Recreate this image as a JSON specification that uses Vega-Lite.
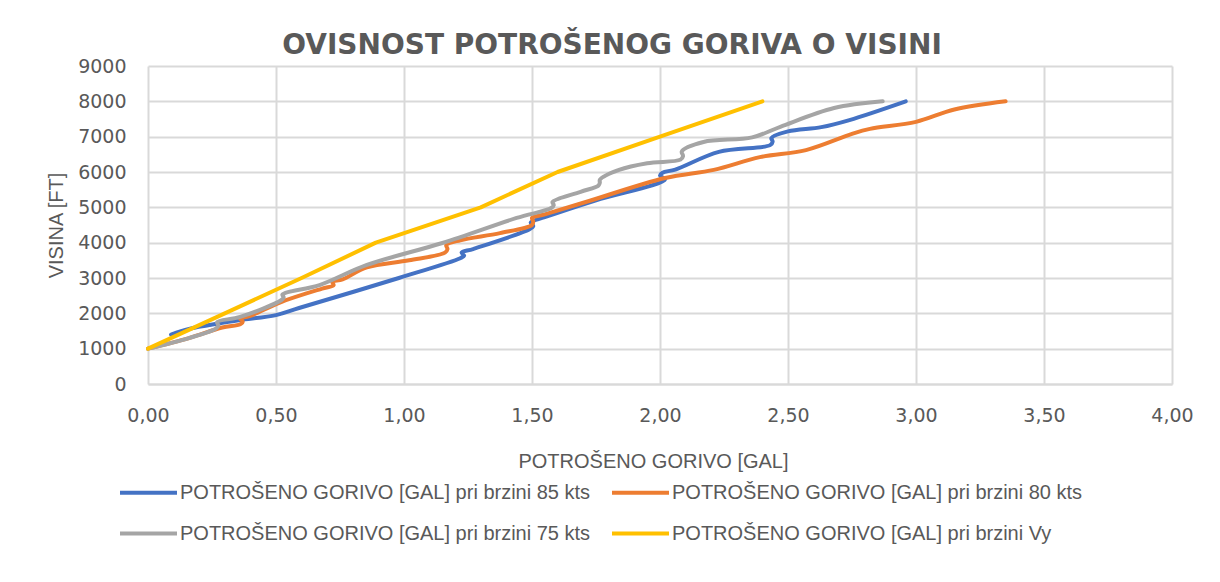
{
  "$schema": "https://vega.github.io/schema/vega-lite/v6.json",
  "autosize": {"type": "none"},
  "width": 1024,
  "height": 318,
  "padding": {"left": 148, "top": 66, "right": 48, "bottom": 198},
  "background": "white",
  "config": {
    "font": "Liberation Sans",
    "view": {"stroke": null},
    "locale": {"number": {"decimal": ",", "thousands": ".", "grouping": [3], "currency": ["", " €"]}}
  },
  "title": {
    "text": "OVISNOST POTROŠENOG GORIVA O VISINI",
    "font": "DejaVu Sans",
    "fontSize": 28,
    "fontWeight": "bold",
    "color": "#595959",
    "anchor": "middle",
    "frame": "group",
    "dx": -48,
    "dy": 5,
    "offset": 2
  },
  "data": {
    "values": [
      {"serija": "POTROŠENO GORIVO [GAL] pri brzini 85 kts", "gorivo": 0.09, "visina": 1400},
      {"serija": "POTROŠENO GORIVO [GAL] pri brzini 85 kts", "gorivo": 0.16, "visina": 1560},
      {"serija": "POTROŠENO GORIVO [GAL] pri brzini 85 kts", "gorivo": 0.28, "visina": 1720},
      {"serija": "POTROŠENO GORIVO [GAL] pri brzini 85 kts", "gorivo": 0.36, "visina": 1810},
      {"serija": "POTROŠENO GORIVO [GAL] pri brzini 85 kts", "gorivo": 0.5, "visina": 1950},
      {"serija": "POTROŠENO GORIVO [GAL] pri brzini 85 kts", "gorivo": 0.59, "visina": 2150},
      {"serija": "POTROŠENO GORIVO [GAL] pri brzini 85 kts", "gorivo": 0.98, "visina": 3000},
      {"serija": "POTROŠENO GORIVO [GAL] pri brzini 85 kts", "gorivo": 1.22, "visina": 3560},
      {"serija": "POTROŠENO GORIVO [GAL] pri brzini 85 kts", "gorivo": 1.235, "visina": 3630},
      {"serija": "POTROŠENO GORIVO [GAL] pri brzini 85 kts", "gorivo": 1.225, "visina": 3720},
      {"serija": "POTROŠENO GORIVO [GAL] pri brzini 85 kts", "gorivo": 1.27, "visina": 3820},
      {"serija": "POTROŠENO GORIVO [GAL] pri brzini 85 kts", "gorivo": 1.49, "visina": 4380},
      {"serija": "POTROŠENO GORIVO [GAL] pri brzini 85 kts", "gorivo": 1.505, "visina": 4470},
      {"serija": "POTROŠENO GORIVO [GAL] pri brzini 85 kts", "gorivo": 1.495, "visina": 4570},
      {"serija": "POTROŠENO GORIVO [GAL] pri brzini 85 kts", "gorivo": 1.55, "visina": 4720},
      {"serija": "POTROŠENO GORIVO [GAL] pri brzini 85 kts", "gorivo": 1.75, "visina": 5200},
      {"serija": "POTROŠENO GORIVO [GAL] pri brzini 85 kts", "gorivo": 2.02, "visina": 5790},
      {"serija": "POTROŠENO GORIVO [GAL] pri brzini 85 kts", "gorivo": 2.0, "visina": 5900},
      {"serija": "POTROŠENO GORIVO [GAL] pri brzini 85 kts", "gorivo": 2.01, "visina": 5980},
      {"serija": "POTROŠENO GORIVO [GAL] pri brzini 85 kts", "gorivo": 2.06, "visina": 6070},
      {"serija": "POTROŠENO GORIVO [GAL] pri brzini 85 kts", "gorivo": 2.23, "visina": 6570},
      {"serija": "POTROŠENO GORIVO [GAL] pri brzini 85 kts", "gorivo": 2.43, "visina": 6760},
      {"serija": "POTROŠENO GORIVO [GAL] pri brzini 85 kts", "gorivo": 2.44, "visina": 6860},
      {"serija": "POTROŠENO GORIVO [GAL] pri brzini 85 kts", "gorivo": 2.435, "visina": 6960},
      {"serija": "POTROŠENO GORIVO [GAL] pri brzini 85 kts", "gorivo": 2.5, "visina": 7150},
      {"serija": "POTROŠENO GORIVO [GAL] pri brzini 85 kts", "gorivo": 2.63, "visina": 7270},
      {"serija": "POTROŠENO GORIVO [GAL] pri brzini 85 kts", "gorivo": 2.74, "visina": 7470},
      {"serija": "POTROŠENO GORIVO [GAL] pri brzini 85 kts", "gorivo": 2.96, "visina": 8000},

      {"serija": "POTROŠENO GORIVO [GAL] pri brzini 80 kts", "gorivo": 0.0, "visina": 1000},
      {"serija": "POTROŠENO GORIVO [GAL] pri brzini 80 kts", "gorivo": 0.16, "visina": 1300},
      {"serija": "POTROŠENO GORIVO [GAL] pri brzini 80 kts", "gorivo": 0.29, "visina": 1600},
      {"serija": "POTROŠENO GORIVO [GAL] pri brzini 80 kts", "gorivo": 0.36, "visina": 1690},
      {"serija": "POTROŠENO GORIVO [GAL] pri brzini 80 kts", "gorivo": 0.37, "visina": 1770},
      {"serija": "POTROŠENO GORIVO [GAL] pri brzini 80 kts", "gorivo": 0.36, "visina": 1850},
      {"serija": "POTROŠENO GORIVO [GAL] pri brzini 80 kts", "gorivo": 0.4, "visina": 1930},
      {"serija": "POTROŠENO GORIVO [GAL] pri brzini 80 kts", "gorivo": 0.52, "visina": 2320},
      {"serija": "POTROŠENO GORIVO [GAL] pri brzini 80 kts", "gorivo": 0.68, "visina": 2700},
      {"serija": "POTROŠENO GORIVO [GAL] pri brzini 80 kts", "gorivo": 0.725, "visina": 2800},
      {"serija": "POTROŠENO GORIVO [GAL] pri brzini 80 kts", "gorivo": 0.72, "visina": 2890},
      {"serija": "POTROŠENO GORIVO [GAL] pri brzini 80 kts", "gorivo": 0.76, "visina": 2960},
      {"serija": "POTROŠENO GORIVO [GAL] pri brzini 80 kts", "gorivo": 0.855, "visina": 3300},
      {"serija": "POTROŠENO GORIVO [GAL] pri brzini 80 kts", "gorivo": 1.02, "visina": 3500},
      {"serija": "POTROŠENO GORIVO [GAL] pri brzini 80 kts", "gorivo": 1.16, "visina": 3720},
      {"serija": "POTROŠENO GORIVO [GAL] pri brzini 80 kts", "gorivo": 1.17, "visina": 3820},
      {"serija": "POTROŠENO GORIVO [GAL] pri brzini 80 kts", "gorivo": 1.165, "visina": 3930},
      {"serija": "POTROŠENO GORIVO [GAL] pri brzini 80 kts", "gorivo": 1.22, "visina": 4070},
      {"serija": "POTROŠENO GORIVO [GAL] pri brzini 80 kts", "gorivo": 1.375, "visina": 4270},
      {"serija": "POTROŠENO GORIVO [GAL] pri brzini 80 kts", "gorivo": 1.5, "visina": 4500},
      {"serija": "POTROŠENO GORIVO [GAL] pri brzini 80 kts", "gorivo": 1.505, "visina": 4600},
      {"serija": "POTROŠENO GORIVO [GAL] pri brzini 80 kts", "gorivo": 1.5, "visina": 4700},
      {"serija": "POTROŠENO GORIVO [GAL] pri brzini 80 kts", "gorivo": 1.55, "visina": 4800},
      {"serija": "POTROŠENO GORIVO [GAL] pri brzini 80 kts", "gorivo": 1.71, "visina": 5150},
      {"serija": "POTROŠENO GORIVO [GAL] pri brzini 80 kts", "gorivo": 2.02, "visina": 5830},
      {"serija": "POTROŠENO GORIVO [GAL] pri brzini 80 kts", "gorivo": 2.21, "visina": 6060},
      {"serija": "POTROŠENO GORIVO [GAL] pri brzini 80 kts", "gorivo": 2.39, "visina": 6420},
      {"serija": "POTROŠENO GORIVO [GAL] pri brzini 80 kts", "gorivo": 2.57, "visina": 6620},
      {"serija": "POTROŠENO GORIVO [GAL] pri brzini 80 kts", "gorivo": 2.75, "visina": 7080},
      {"serija": "POTROŠENO GORIVO [GAL] pri brzini 80 kts", "gorivo": 2.82, "visina": 7220},
      {"serija": "POTROŠENO GORIVO [GAL] pri brzini 80 kts", "gorivo": 3.0, "visina": 7420},
      {"serija": "POTROŠENO GORIVO [GAL] pri brzini 80 kts", "gorivo": 3.15, "visina": 7770},
      {"serija": "POTROŠENO GORIVO [GAL] pri brzini 80 kts", "gorivo": 3.35, "visina": 8000},

      {"serija": "POTROŠENO GORIVO [GAL] pri brzini 75 kts", "gorivo": 0.0, "visina": 1000},
      {"serija": "POTROŠENO GORIVO [GAL] pri brzini 75 kts", "gorivo": 0.16, "visina": 1300},
      {"serija": "POTROŠENO GORIVO [GAL] pri brzini 75 kts", "gorivo": 0.265, "visina": 1570},
      {"serija": "POTROŠENO GORIVO [GAL] pri brzini 75 kts", "gorivo": 0.275, "visina": 1660},
      {"serija": "POTROŠENO GORIVO [GAL] pri brzini 75 kts", "gorivo": 0.27, "visina": 1750},
      {"serija": "POTROŠENO GORIVO [GAL] pri brzini 75 kts", "gorivo": 0.36, "visina": 1900},
      {"serija": "POTROŠENO GORIVO [GAL] pri brzini 75 kts", "gorivo": 0.52, "visina": 2370},
      {"serija": "POTROŠENO GORIVO [GAL] pri brzini 75 kts", "gorivo": 0.53, "visina": 2450},
      {"serija": "POTROŠENO GORIVO [GAL] pri brzini 75 kts", "gorivo": 0.525, "visina": 2530},
      {"serija": "POTROŠENO GORIVO [GAL] pri brzini 75 kts", "gorivo": 0.67, "visina": 2800},
      {"serija": "POTROŠENO GORIVO [GAL] pri brzini 75 kts", "gorivo": 0.855, "visina": 3370},
      {"serija": "POTROŠENO GORIVO [GAL] pri brzini 75 kts", "gorivo": 1.15, "visina": 3990},
      {"serija": "POTROŠENO GORIVO [GAL] pri brzini 75 kts", "gorivo": 1.44, "visina": 4700},
      {"serija": "POTROŠENO GORIVO [GAL] pri brzini 75 kts", "gorivo": 1.575, "visina": 4980},
      {"serija": "POTROŠENO GORIVO [GAL] pri brzini 75 kts", "gorivo": 1.585, "visina": 5060},
      {"serija": "POTROŠENO GORIVO [GAL] pri brzini 75 kts", "gorivo": 1.58, "visina": 5150},
      {"serija": "POTROŠENO GORIVO [GAL] pri brzini 75 kts", "gorivo": 1.69, "visina": 5440},
      {"serija": "POTROŠENO GORIVO [GAL] pri brzini 75 kts", "gorivo": 1.76, "visina": 5620},
      {"serija": "POTROŠENO GORIVO [GAL] pri brzini 75 kts", "gorivo": 1.765, "visina": 5700},
      {"serija": "POTROŠENO GORIVO [GAL] pri brzini 75 kts", "gorivo": 1.765, "visina": 5780},
      {"serija": "POTROŠENO GORIVO [GAL] pri brzini 75 kts", "gorivo": 1.84, "visina": 6060},
      {"serija": "POTROŠENO GORIVO [GAL] pri brzini 75 kts", "gorivo": 1.95, "visina": 6250},
      {"serija": "POTROŠENO GORIVO [GAL] pri brzini 75 kts", "gorivo": 2.08, "visina": 6350},
      {"serija": "POTROŠENO GORIVO [GAL] pri brzini 75 kts", "gorivo": 2.09, "visina": 6450},
      {"serija": "POTROŠENO GORIVO [GAL] pri brzini 75 kts", "gorivo": 2.085, "visina": 6580},
      {"serija": "POTROŠENO GORIVO [GAL] pri brzini 75 kts", "gorivo": 2.17, "visina": 6850},
      {"serija": "POTROŠENO GORIVO [GAL] pri brzini 75 kts", "gorivo": 2.36, "visina": 6980},
      {"serija": "POTROŠENO GORIVO [GAL] pri brzini 75 kts", "gorivo": 2.47, "visina": 7280},
      {"serija": "POTROŠENO GORIVO [GAL] pri brzini 75 kts", "gorivo": 2.68, "visina": 7810},
      {"serija": "POTROŠENO GORIVO [GAL] pri brzini 75 kts", "gorivo": 2.87, "visina": 8000},

      {"serija": "POTROŠENO GORIVO [GAL] pri brzini Vy", "gorivo": 0.0, "visina": 1000},
      {"serija": "POTROŠENO GORIVO [GAL] pri brzini Vy", "gorivo": 0.3, "visina": 2000},
      {"serija": "POTROŠENO GORIVO [GAL] pri brzini Vy", "gorivo": 0.6, "visina": 3000},
      {"serija": "POTROŠENO GORIVO [GAL] pri brzini Vy", "gorivo": 0.89, "visina": 4000},
      {"serija": "POTROŠENO GORIVO [GAL] pri brzini Vy", "gorivo": 1.3, "visina": 5000},
      {"serija": "POTROŠENO GORIVO [GAL] pri brzini Vy", "gorivo": 1.6, "visina": 6000},
      {"serija": "POTROŠENO GORIVO [GAL] pri brzini Vy", "gorivo": 2.0, "visina": 7000},
      {"serija": "POTROŠENO GORIVO [GAL] pri brzini Vy", "gorivo": 2.4, "visina": 8000}
    ]
  },
  "encoding": {
    "x": {
      "field": "gorivo", "type": "quantitative",
      "scale": {"domain": [0, 4], "nice": false, "zero": true},
      "axis": {
        "title": "POTROŠENO GORIVO [GAL]",
        "titleFont": "Liberation Sans", "titleFontSize": 20, "titleFontWeight": "normal", "titleColor": "#595959",
        "titlePadding": 26, "titleX": 505,
        "values": [0, 0.5, 1, 1.5, 2, 2.5, 3, 3.5, 4],
        "format": ".2f",
        "labelFont": "DejaVu Sans", "labelFontSize": 19, "labelColor": "#595959", "labelPadding": 22,
        "labelFlush": false, "labelOverlap": false,
        "ticks": false,
        "domain": true, "domainColor": "#d9d9d9", "domainWidth": 2,
        "grid": true, "gridColor": "#d9d9d9", "gridWidth": 2
      }
    },
    "y": {
      "field": "visina", "type": "quantitative",
      "scale": {"domain": [0, 9000], "nice": false},
      "axis": {
        "title": "VISINA [FT]",
        "titleFont": "Liberation Sans", "titleFontSize": 20, "titleFontWeight": "normal", "titleColor": "#595959",
        "titleX": -92, "titleY": 159, "titleAngle": -90, "titleAlign": "center", "titleBaseline": "middle",
        "values": [0, 1000, 2000, 3000, 4000, 5000, 6000, 7000, 8000, 9000],
        "format": "d",
        "labelFont": "DejaVu Sans", "labelFontSize": 19, "labelColor": "#595959", "labelPadding": 22,
        "labelFlush": false, "labelOverlap": false,
        "ticks": false, "domain": false,
        "grid": true, "gridColor": "#d9d9d9", "gridWidth": 2
      }
    },
    "color": {
      "field": "serija", "type": "nominal",
      "scale": {
        "domain": ["POTROŠENO GORIVO [GAL] pri brzini 85 kts", "POTROŠENO GORIVO [GAL] pri brzini 80 kts", "POTROŠENO GORIVO [GAL] pri brzini 75 kts", "POTROŠENO GORIVO [GAL] pri brzini Vy"],
        "range": ["#4472C4", "#ED7D31", "#A5A5A5", "#FFC000"]
      },
      "legend": {
        "title": null,
        "orient": "none",
        "legendX": -30,
        "legendY": 396,
        "direction": "horizontal",
        "columns": 2,
        "columnPadding": 13,
        "rowPadding": 0,
        "symbolType": "stroke",
        "symbolSize": 3249,
        "symbolStrokeWidth": 4,
        "labelFont": "Liberation Sans",
        "labelFontSize": 20,
        "labelColor": "#595959",
        "labelOffset": 1,
        "labelLimit": 600
      }
    },
    "order": {"field": "visina", "type": "quantitative"}
  },
  "layer": [
    {
      "transform": [{"filter": "datum.serija !== 'POTROŠENO GORIVO [GAL] pri brzini Vy'"}],
      "mark": {"type": "line", "interpolate": "catmull-rom", "strokeWidth": 4, "strokeCap": "round", "strokeJoin": "round", "clip": false}
    },
    {
      "transform": [{"filter": "datum.serija === 'POTROŠENO GORIVO [GAL] pri brzini Vy'"}],
      "mark": {"type": "line", "interpolate": "linear", "strokeWidth": 4, "strokeCap": "round", "strokeJoin": "round", "clip": false}
    }
  ]
}
